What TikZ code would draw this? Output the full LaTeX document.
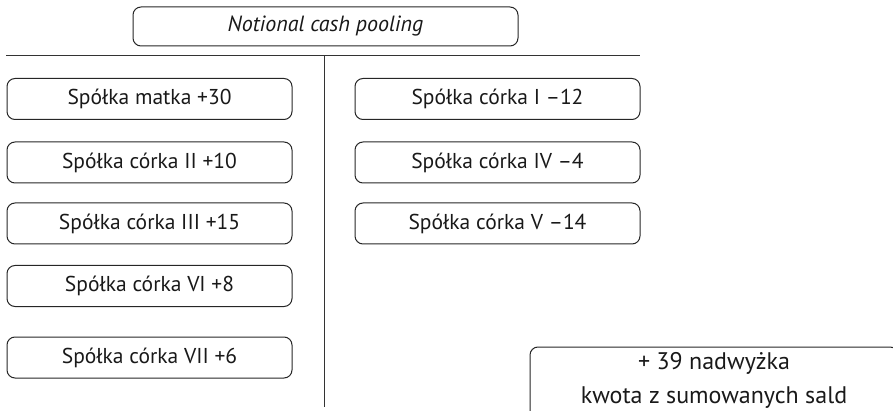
\documentclass[tikz,border=0pt]{standalone}
\usepackage{fontspec}
\setmainfont{PT Sans}
\begin{document}
\begin{tikzpicture}[x=1pt,y=-1pt,
  box/.style={draw=black!85, line width=1pt, rounded corners=8pt, minimum width=285pt, minimum height=41pt, inner sep=0pt, font=\fontsize{21.5}{25}\selectfont, text=black!90},
  rule/.style={draw=black!80, line width=1pt}]
\useasboundingbox (0,0) rectangle (893,411);
\clip (0,0) rectangle (893,411);
\node[box, minimum width=385pt, minimum height=39pt, font=\fontsize{22}{26}\selectfont\itshape] (title) at (325.5,26.5) {Notional cash pooling};
\coordinate (hl) at (6,56);
\coordinate (hr) at (640,56);
\coordinate (vt) at (324,56);
\coordinate (vb) at (324,407);
\draw[rule] (hl) -- (hr);
\draw[rule] (vt) -- (vb);
\node[box] (l1) at (149.5,99) {Spółka matka +30};
\node[box] (l2) at (149.5,162.5) {Spółka córka II +10};
\node[box] (l3) at (149.5,223.5) {Spółka córka III +15};
\node[box] (l4) at (149.5,286) {Spółka córka VI +8};
\node[box] (l5) at (149.5,357.5) {Spółka córka VII +6};
\node[box] (r1) at (497.5,99) {Spółka córka I –12};
\node[box] (r2) at (497.5,162.5) {Spółka córka IV –4};
\node[box] (r3) at (497.5,223.5) {Spółka córka V –14};
\node[box, minimum width=368pt, minimum height=80pt] (sum) at (714,387) {};
\node[font=\fontsize{24}{34}\selectfont, align=center, text=black!90, inner sep=0pt] (sumtext) at (714,380) {+ 39 nadwyżka\\kwota z sumowanych sald};
\end{tikzpicture}
\end{document}
